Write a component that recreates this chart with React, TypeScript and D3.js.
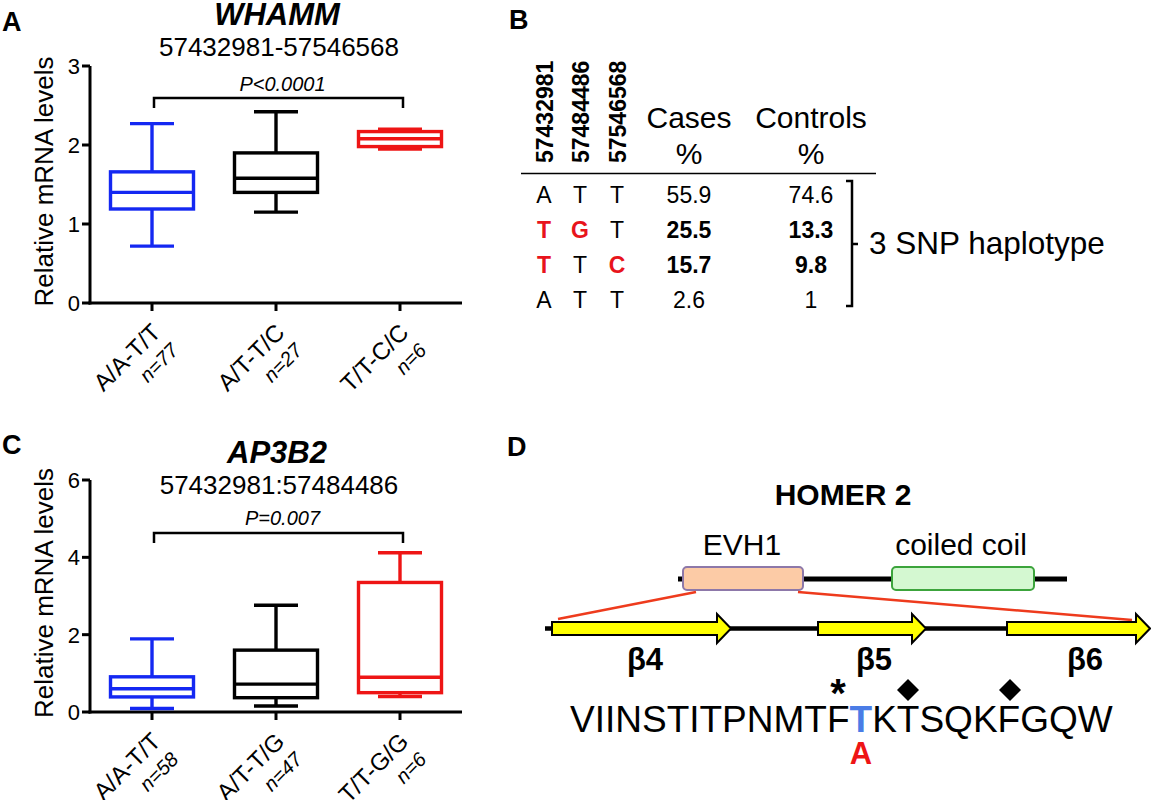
import React from "react";
import * as d3 from "d3";

const FONT = "'Liberation Sans', Arial, Helvetica, sans-serif";

// ---------- Panel A data (WHAMM) ----------
const groupsA = ["A/A-T/T", "A/T-T/C", "T/T-C/C"];
const nA = ["n=77", "n=27", "n=6"];
const minA = [0.72, 1.15, 1.95];
const q1A = [1.19, 1.4, 1.98];
const medA = [1.4, 1.58, 2.08];
const q3A = [1.66, 1.9, 2.17];
const maxA = [2.27, 2.42, 2.2];
const ticksA = [0, 1, 2, 3];

// ---------- Panel C data (AP3B2) ----------
const groupsC = ["A/A-T/T", "A/T-T/G", "T/T-G/G"];
const nC = ["n=58", "n=47", "n=6"];
const minC = [0.09, 0.155, 0.4];
const q1C = [0.39, 0.37, 0.5];
const medC = [0.6, 0.72, 0.9];
const q3C = [0.91, 1.6, 3.35];
const maxC = [1.89, 2.76, 4.12];
const ticksC = [0, 2, 4, 6];

const boxColors = ["#1428f2", "#000000", "#ee1515"];

// ---------- Panel B data ----------
const snpIds = ["57432981", "57484486", "57546568"];
const hapAlleles = [
  ["A", "T", "T"],
  ["T", "G", "T"],
  ["T", "T", "C"],
  ["A", "T", "T"],
];
const hapRisk = [
  [0, 0, 0],
  [1, 1, 0],
  [1, 0, 1],
  [0, 0, 0],
];
const casesPct = ["55.9", "25.5", "15.7", "2.6"];
const controlsPct = ["74.6", "13.3", "9.8", "1"];
const boldRows = [false, true, true, false];

// ---------- Panel D data ----------
const sequence = "VIINSTITPNMTFTKTSQKFGQW";
const mutatedIndex = 13; // the T at position 14
const strands = ["β4", "β5", "β6"];

function BoxPanel(props: any) {
  const {
    top, bottom, yMax, ticks, groups, ns, mins, q1s, meds, q3s, maxs,
    bracketVal, pText, pBaseline, letter, letterY, title, titleY, subtitle, subtitleY,
  } = props;
  const y = d3.scaleLinear().domain([0, yMax]).range([bottom, top]);
  const x = d3.scalePoint<string>().domain(groups).range([90, 462]).padding(0.5);
  const boxW = 83;
  const capW = 44;
  const sw = 3.4;
  const bx1 = x(groups[0])! + 2;
  const bx2 = x(groups[2])! + 3;
  const by = y(bracketVal);
  const midTitle = 277;
  const yLabelCenter = (top + bottom) / 2 - 3;
  return (
    <g>
      <text x={2} y={letterY} fontSize={27} fontWeight="bold">{letter}</text>
      <text x={midTitle} y={titleY} fontSize={31} fontWeight="bold" fontStyle="italic" textAnchor="middle">{title}</text>
      <text x={midTitle + 2} y={subtitleY} fontSize={26} textAnchor="middle">{subtitle}</text>
      <text
        transform={`translate(53,${yLabelCenter}) rotate(-90)`}
        fontSize={26}
        textAnchor="middle"
      >
        Relative mRNA levels
      </text>
      {/* axes */}
      <line x1={90} x2={90} y1={top} y2={bottom + 1.5} stroke="#000" strokeWidth={3} />
      <line x1={88.5} x2={462} y1={bottom} y2={bottom} stroke="#000" strokeWidth={3} />
      {ticks.map((t: number) => (
        <g key={t}>
          <line x1={82} x2={90} y1={y(t)} y2={y(t)} stroke="#000" strokeWidth={3} />
          <text x={80} y={y(t) + 8} fontSize={22} textAnchor="end">{t}</text>
        </g>
      ))}
      {groups.map((g: string, i: number) => (
        <g key={g}>
          <line x1={x(g)} x2={x(g)} y1={bottom} y2={bottom + 8} stroke="#000" strokeWidth={3} />
          <g transform={`translate(${x(g)! + 10},${bottom + 31}) rotate(-45)`}>
            <text textAnchor="end" fontSize={24}>{g}</text>
            <text y={25} textAnchor="end" fontSize={20} fontStyle="italic">{ns[i]}</text>
          </g>
        </g>
      ))}
      {/* boxes */}
      {groups.map((g: string, i: number) => {
        const cx = x(g)!;
        const c = boxColors[i];
        return (
          <g key={"b" + g} stroke={c} strokeWidth={sw} fill="none">
            <line x1={cx} x2={cx} y1={y(q3s[i])} y2={y(maxs[i])} />
            <line x1={cx} x2={cx} y1={y(q1s[i])} y2={y(mins[i])} />
            <line x1={cx - capW / 2} x2={cx + capW / 2} y1={y(maxs[i])} y2={y(maxs[i])} />
            <line x1={cx - capW / 2} x2={cx + capW / 2} y1={y(mins[i])} y2={y(mins[i])} />
            <rect x={cx - boxW / 2} y={y(q3s[i])} width={boxW} height={y(q1s[i]) - y(q3s[i])} />
            <line x1={cx - boxW / 2} x2={cx + boxW / 2} y1={y(meds[i])} y2={y(meds[i])} />
          </g>
        );
      })}
      {/* significance bracket */}
      <path
        d={`M${bx1},${by + 10} V${by} H${bx2} V${by + 10}`}
        fill="none"
        stroke="#000"
        strokeWidth={2.5}
      />
      <text x={(bx1 + bx2) / 2 + 4} y={pBaseline} fontSize={20} fontStyle="italic" textAnchor="middle">{pText}</text>
    </g>
  );
}

function TablePanel() {
  const colX = [544, 580, 617];
  const casesX = 689;
  const controlsX = 811;
  const rowY = [203, 238, 273, 308];
  return (
    <g>
      <text x={509} y={29} fontSize={27} fontWeight="bold">B</text>
      {snpIds.map((s, i) => (
        <text
          key={s}
          transform={`translate(${colX[i] + 9},163) rotate(-90)`}
          fontSize={23}
          fontWeight="bold"
        >
          {s}
        </text>
      ))}
      <text x={casesX} y={128} fontSize={30} textAnchor="middle">Cases</text>
      <text x={controlsX} y={128} fontSize={30} textAnchor="middle">Controls</text>
      <text x={casesX} y={164} fontSize={30} textAnchor="middle">%</text>
      <text x={controlsX} y={164} fontSize={30} textAnchor="middle">%</text>
      <line x1={521} x2={876} y1={173.5} y2={173.5} stroke="#000" strokeWidth={1.5} />
      {hapAlleles.map((row, r) => (
        <g key={r}>
          {row.map((a, c) => (
            <text
              key={c}
              x={colX[c]}
              y={rowY[r]}
              fontSize={23}
              textAnchor="middle"
              fill={hapRisk[r][c] ? "#e8141c" : "#000"}
              fontWeight={hapRisk[r][c] ? "bold" : "normal"}
            >
              {a}
            </text>
          ))}
          <text x={casesX} y={rowY[r]} fontSize={23} textAnchor="middle" fontWeight={boldRows[r] ? "bold" : "normal"}>
            {casesPct[r]}
          </text>
          <text x={controlsX} y={rowY[r]} fontSize={23} textAnchor="middle" fontWeight={boldRows[r] ? "bold" : "normal"}>
            {controlsPct[r]}
          </text>
        </g>
      ))}
      <path
        d="M846,181 H852 V306 H846 M852,244 H858"
        fill="none"
        stroke="#000"
        strokeWidth={2.5}
      />
      <text x={869} y={254} fontSize={31.5}>3 SNP haplotype</text>
    </g>
  );
}

function arrowPath(x0: number, xShaft: number, xTip: number, cy: number) {
  const sh = 6.5;
  const hh = 14.5;
  return `M${x0},${cy - sh} H${xShaft} V${cy - hh} L${xTip},${cy} L${xShaft},${cy + hh} V${cy + sh} H${x0} Z`;
}

function HomerPanel() {
  const arrows = [
    { x0: 552, xs: 717, xt: 731, lx: 645 },
    { x0: 818, xs: 912, xt: 926, lx: 874 },
    { x0: 1007, xs: 1136, xt: 1150, lx: 1085 },
  ];
  const cy = 628.5;
  const seqX = 570;
  const seqSize = 37;
  return (
    <g>
      <text x={507} y={456} fontSize={27} fontWeight="bold">D</text>
      <text x={843} y={505} fontSize={30} fontWeight="bold" textAnchor="middle">HOMER 2</text>
      <text x={742} y={555} fontSize={30} textAnchor="middle">EVH1</text>
      <text x={961} y={555} fontSize={30} textAnchor="middle">coiled coil</text>
      {/* protein backbone */}
      <line x1={678} x2={1067} y1={579} y2={579} stroke="#000" strokeWidth={5} />
      <rect x={683} y={567} width={120} height={23} rx={4} fill="#fccba6" stroke="#8d78a9" strokeWidth={2} />
      <rect x={892} y={567} width={142} height={23} rx={4} fill="#d4f8d1" stroke="#3ca43c" strokeWidth={2} />
      {/* zoom lines */}
      <line x1={696} y1={592} x2={558} y2={619} stroke="#ee3b1d" strokeWidth={2.5} />
      <line x1={798} y1={592} x2={1132} y2={620} stroke="#ee3b1d" strokeWidth={2.5} />
      {/* strand diagram */}
      <line x1={545} x2={1010} y1={cy} y2={cy} stroke="#000" strokeWidth={4.5} />
      {arrows.map((a, i) => (
        <g key={i}>
          <path d={arrowPath(a.x0, a.xs, a.xt, cy)} fill="#ffff00" stroke="#000" strokeWidth={2} strokeLinejoin="miter" />
          <text x={a.lx} y={670} fontSize={31} fontWeight="bold" textAnchor="middle">{strands[i]}</text>
        </g>
      ))}
      {/* sequence */}
      <text x={seqX} y={732} fontSize={seqSize}>
        {sequence.slice(0, mutatedIndex)}
        <tspan fill="#4a7ce6" fontWeight="bold">{sequence[mutatedIndex]}</tspan>
        {sequence.slice(mutatedIndex + 1)}
      </text>
      <text x={861} y={764} fontSize={31} fontWeight="bold" fill="#ee1515" textAnchor="middle">A</text>
      <text x={838} y={707} fontSize={40} fontWeight="bold" textAnchor="middle">*</text>
      <path d="M908,679 L919,690 L908,701 L897,690 Z" fill="#000" />
      <path d="M1010,679 L1021,690 L1010,701 L999,690 Z" fill="#000" />
    </g>
  );
}

export default function App() {
  return (
    <svg
      width={1151}
      height={800}
      style={{ position: "absolute", left: 0, top: 0, background: "#fff" }}
      fontFamily={FONT}
    >
      <rect width={1151} height={800} fill="#fff" />
      <BoxPanel
        top={66}
        bottom={303}
        yMax={3}
        ticks={ticksA}
        groups={groupsA}
        ns={nA}
        mins={minA}
        q1s={q1A}
        meds={medA}
        q3s={q3A}
        maxs={maxA}
        bracketVal={2.595}
        pText="P<0.0001"
        pBaseline={91}
        letter="A"
        letterY={31}
        title="WHAMM"
        titleY={25}
        subtitle="57432981-57546568"
        subtitleY={56}
      />
      <BoxPanel
        top={480}
        bottom={712}
        yMax={6}
        ticks={ticksC}
        groups={groupsC}
        ns={nC}
        mins={minC}
        q1s={q1C}
        meds={medC}
        q3s={q3C}
        maxs={maxC}
        bracketVal={4.63}
        pText="P=0.007"
        pBaseline={525}
        letter="C"
        letterY={454}
        title="AP3B2"
        titleY={463}
        subtitle="57432981:57484486"
        subtitleY={494}
      />
      <TablePanel />
      <HomerPanel />
    </svg>
  );
}
